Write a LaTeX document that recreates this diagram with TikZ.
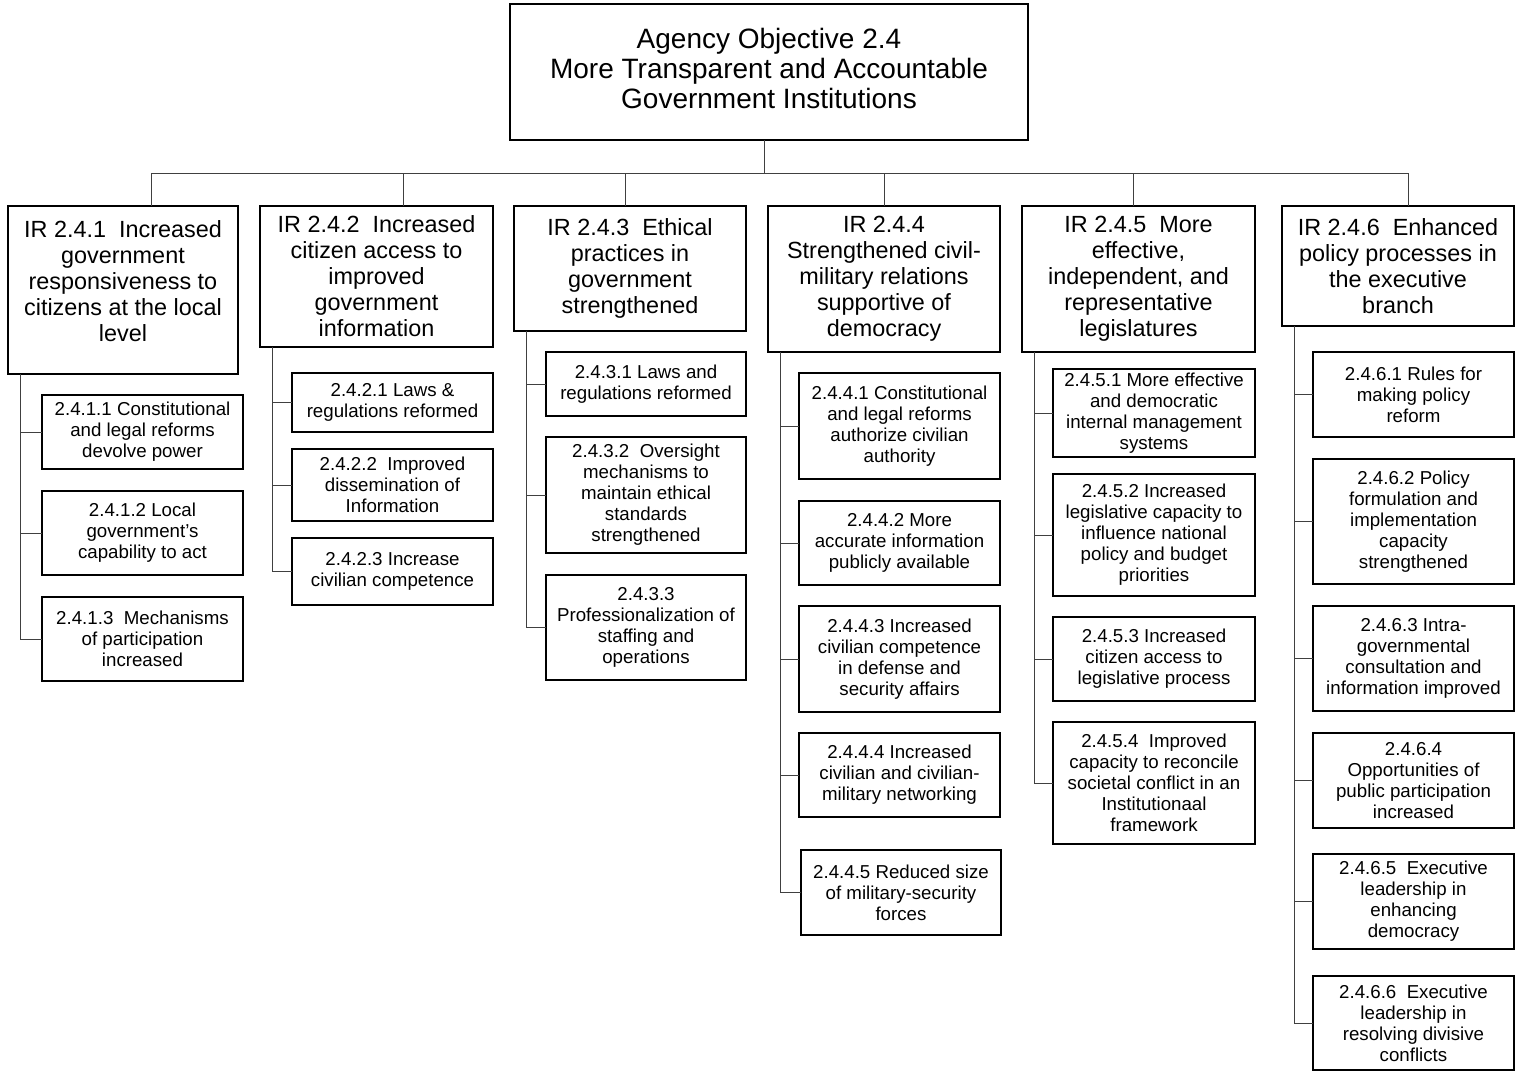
\documentclass[tikz,border=0pt]{standalone}
\usepackage{fontspec}
\setmainfont{Liberation Sans}

\tikzset{
    box/.style = {draw, line width = 1.2pt, anchor = north west, align = center, inner sep = 0pt, outer sep = 0pt},
    topbox/.style = {box, font = \fontsize{28}{30}\selectfont},
    irbox/.style = {box, font = \fontsize{23.4}{26}\selectfont},
    subbox/.style = {box, font = \fontsize{18.7}{21}\selectfont},
    link/.style = {line width = 1pt, black!75}
}

\begin{document}
\begin{tikzpicture}[x = 1pt, y = -1pt]
    \useasboundingbox (0, 0) rectangle (1520, 1073);

    % objective
    \node[topbox, minimum width = 518, minimum height = 136] (top) at (510, 4) {Agency Objective 2.4\\More Transparent and Accountable\\Government Institutions\\[-22pt]};

    % intermediate results
    \node[irbox, minimum width = 230, minimum height = 168] (ir1) at (8, 206) {IR 2.4.1~ Increased\\government\\responsiveness to\\citizens at the local\\level\\[-8pt]};
    \node[irbox, minimum width = 233, minimum height = 141] (ir2) at (260, 206) {IR 2.4.2~ Increased\\citizen access to\\improved\\government\\information};
    \node[irbox, minimum width = 232, minimum height = 125] (ir3) at (514, 206) {IR 2.4.3~ Ethical\\practices in\\government\\strengthened};
    \node[irbox, minimum width = 232, minimum height = 146] (ir4) at (768, 206) {IR 2.4.4\\Strengthened civil-\\military relations\\supportive of\\democracy};
    \node[irbox, minimum width = 233, minimum height = 146] (ir5) at (1022, 206) {IR 2.4.5~ More\\effective,\\independent, and\\representative\\legislatures};
    \node[irbox, minimum width = 232, minimum height = 120] (ir6) at (1282, 206) {IR 2.4.6~ Enhanced\\policy processes in\\the executive\\branch};

    % sub results
    \node[subbox, minimum width = 201, minimum height = 74] (a1) at (42, 395) {2.4.1.1 Constitutional\\and legal reforms\\devolve power};
    \node[subbox, minimum width = 201, minimum height = 84] (a2) at (42, 491) {2.4.1.2 Local\\government's\\capability to act};
    \node[subbox, minimum width = 201, minimum height = 84] (a3) at (42, 597) {2.4.1.3~ Mechanisms\\of participation\\increased};

    \node[subbox, minimum width = 201, minimum height = 59] (b1) at (292, 373) {2.4.2.1 Laws \&\\regulations reformed};
    \node[subbox, minimum width = 201, minimum height = 72] (b2) at (292, 449) {2.4.2.2~ Improved\\dissemination of\\Information};
    \node[subbox, minimum width = 201, minimum height = 67] (b3) at (292, 538) {2.4.2.3 Increase\\civilian competence};

    \node[subbox, minimum width = 200, minimum height = 64] (c1) at (546, 352) {2.4.3.1 Laws and\\regulations reformed};
    \node[subbox, minimum width = 200, minimum height = 116] (c2) at (546, 437) {2.4.3.2~ Oversight\\mechanisms to\\maintain ethical\\standards\\strengthened};
    \node[subbox, minimum width = 200, minimum height = 105] (c3) at (546, 575) {2.4.3.3\\Professionalization of\\staffing and\\operations};

    \node[subbox, minimum width = 201, minimum height = 106] (d1) at (799, 373) {2.4.4.1 Constitutional\\and legal reforms\\authorize civilian\\authority};
    \node[subbox, minimum width = 201, minimum height = 84] (d2) at (799, 501) {2.4.4.2 More\\accurate information\\publicly available};
    \node[subbox, minimum width = 201, minimum height = 106] (d3) at (799, 606) {2.4.4.3 Increased\\civilian competence\\in defense and\\security affairs};
    \node[subbox, minimum width = 201, minimum height = 84] (d4) at (799, 733) {2.4.4.4 Increased\\civilian and civilian-\\military networking};
    \node[subbox, minimum width = 200, minimum height = 85] (d5) at (801, 850) {2.4.4.5 Reduced size\\of military-security\\forces};

    \node[subbox, minimum width = 202, minimum height = 88] (e1) at (1053, 369) {2.4.5.1 More effective\\and democratic\\internal management\\systems};
    \node[subbox, minimum width = 202, minimum height = 122] (e2) at (1053, 474) {2.4.5.2 Increased\\legislative capacity to\\influence national\\policy and budget\\priorities};
    \node[subbox, minimum width = 202, minimum height = 84] (e3) at (1053, 617) {2.4.5.3 Increased\\citizen access to\\legislative process};
    \node[subbox, minimum width = 202, minimum height = 122] (e4) at (1053, 722) {2.4.5.4~ Improved\\capacity to reconcile\\societal conflict in an\\Institutionaal\\framework};

    \node[subbox, minimum width = 201, minimum height = 85] (f1) at (1313, 352) {2.4.6.1 Rules for\\making policy\\reform};
    \node[subbox, minimum width = 201, minimum height = 125] (f2) at (1313, 459) {2.4.6.2 Policy\\formulation and\\implementation\\capacity\\strengthened};
    \node[subbox, minimum width = 201, minimum height = 105] (f3) at (1313, 606) {2.4.6.3 Intra-\\governmental\\consultation and\\information improved};
    \node[subbox, minimum width = 201, minimum height = 95] (f4) at (1313, 733) {2.4.6.4\\Opportunities of\\public participation\\increased};
    \node[subbox, minimum width = 201, minimum height = 95] (f5) at (1313, 854) {2.4.6.5~ Executive\\leadership in\\enhancing\\democracy};
    \node[subbox, minimum width = 201, minimum height = 94] (f6) at (1313, 976) {2.4.6.6~ Executive\\leadership in\\resolving divisive\\conflicts};

    % links
    \coordinate (bus) at (764, 173);
    \draw[link] (bus) -- (bus |- top.south);
    \foreach \n/\dx in {ir1/28, ir2/26.5, ir3/-5, ir4/0, ir5/-5.5, ir6/10}
        \draw[link] ([xshift = \dx]\n.north) |- (bus);

    \foreach \p/\c in {ir1/a1, ir1/a2, ir1/a3, ir2/b1, ir2/b2, ir2/b3, ir3/c1, ir3/c2, ir3/c3,
                       ir4/d1, ir4/d2, ir4/d3, ir4/d4, ir4/d5, ir5/e1, ir5/e2, ir5/e3, ir5/e4,
                       ir6/f1, ir6/f2, ir6/f3, ir6/f4, ir6/f5, ir6/f6}
        \draw[link] ([xshift = 12]\p.south west) |- (\c.west);
\end{tikzpicture}
\end{document}
